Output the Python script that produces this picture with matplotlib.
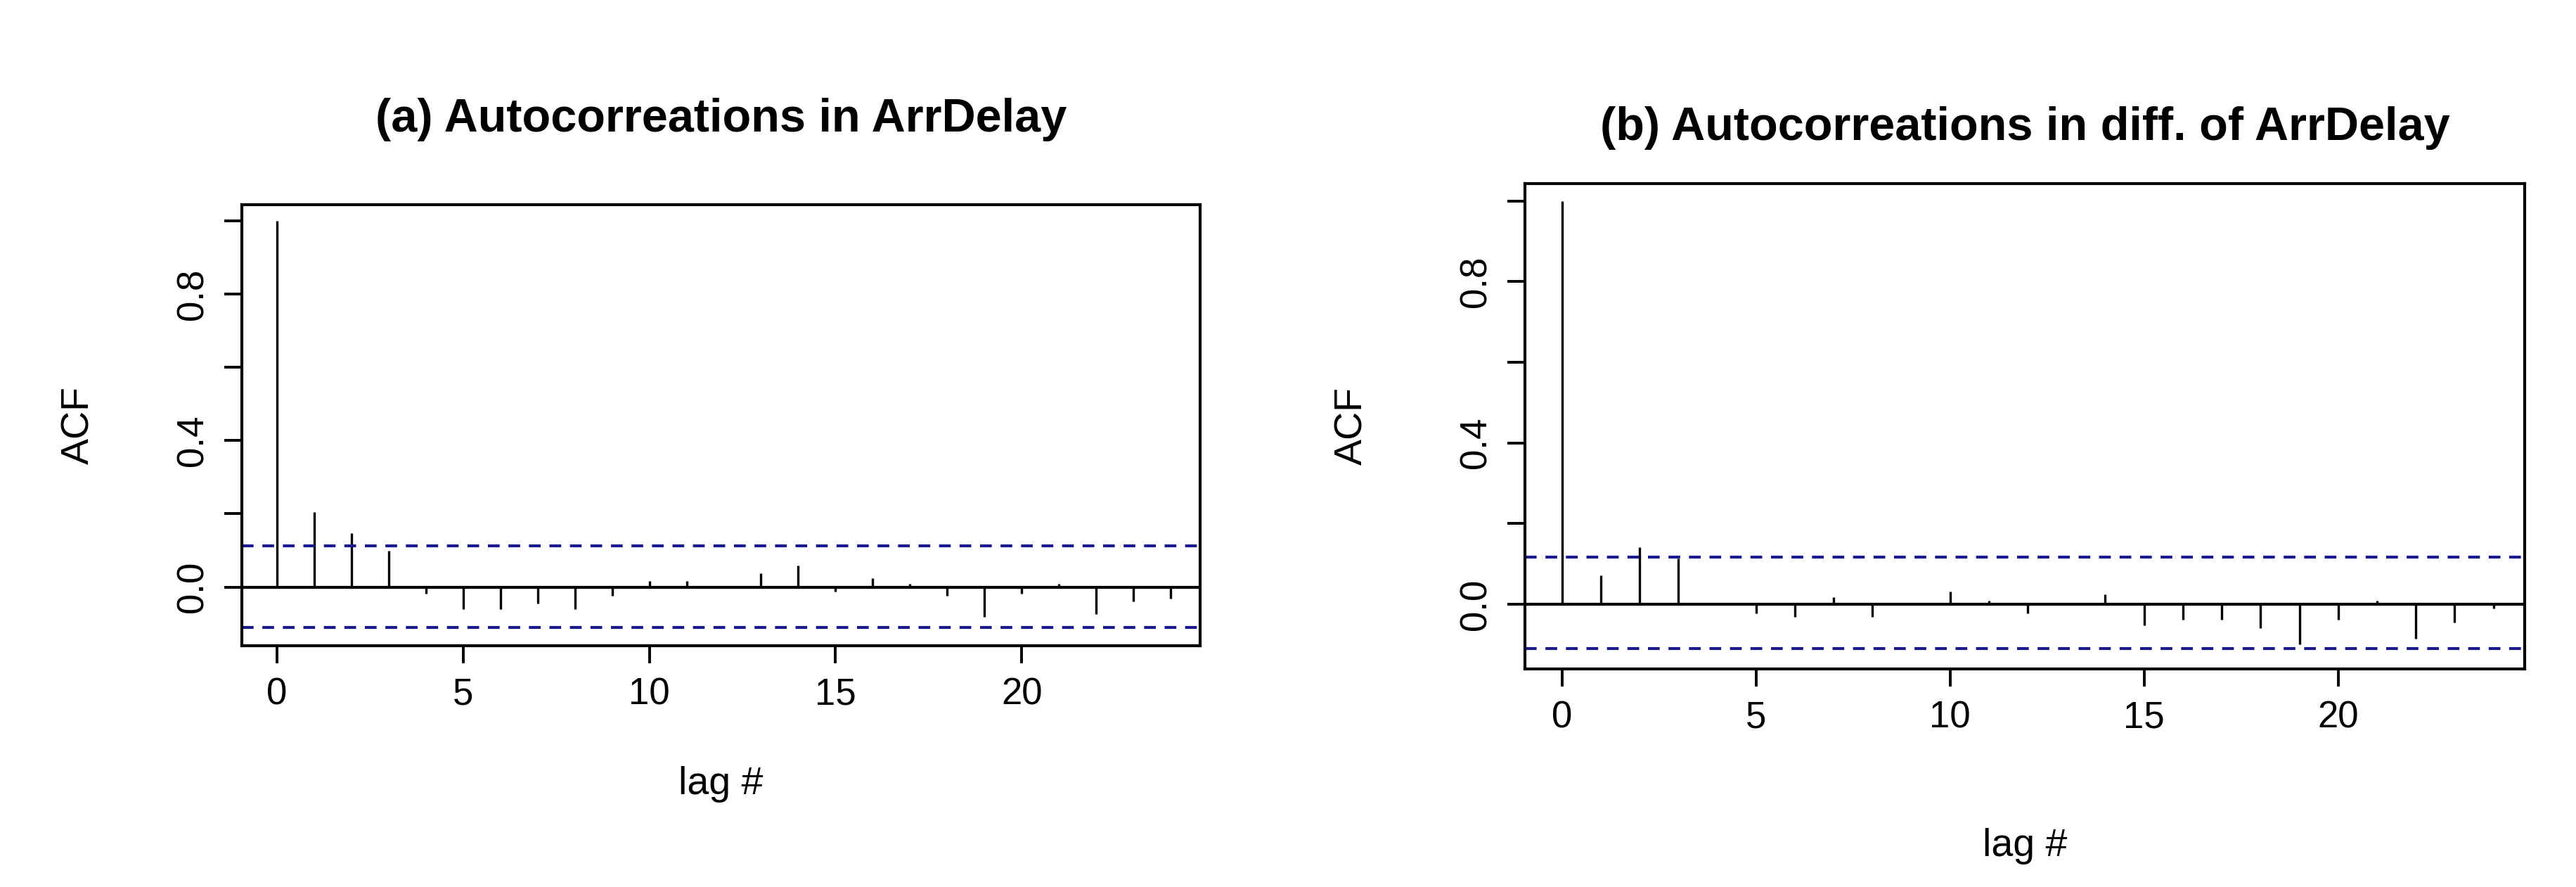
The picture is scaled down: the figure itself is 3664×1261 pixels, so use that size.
import matplotlib
matplotlib.use("Agg")
import matplotlib.pyplot as plt
import numpy as np

lags = np.arange(25)
acf_a = [1.0, 0.204, 0.148, 0.099, -0.018, -0.060, -0.060, -0.045, -0.060, -0.024,
         0.016, 0.016, 0.003, 0.037, 0.058, -0.012, 0.024, 0.009, -0.024, -0.081,
         -0.018, 0.009, -0.073, -0.039, -0.032]
ci_a = (0.112, -0.111)
acf_b = [1.0, 0.072, 0.141, 0.114, 0.002, -0.023, -0.031, 0.018, -0.031, 0.002,
         0.031, 0.009, -0.023, 0.002, 0.024, -0.052, -0.039, -0.039, -0.059, -0.100,
         -0.039, 0.009, -0.086, -0.046, -0.010]
ci_b = (0.117, -0.110)
titles = ["(a) Autocorreations in ArrDelay", "(b) Autocorreations in diff. of ArrDelay"]
xticks = [0, 5, 10, 15, 20]
yticks = [0.0, 0.4, 0.8]

plt.rcParams['font.family'] = ['Liberation Sans', 'DejaVu Sans']
fig = plt.figure(figsize=(36.64, 12.61), dpi=100)
rects = [[0.0938, 0.272, 0.466 - 0.0938, 0.769 - 0.272],
         [0.592, 0.246, 0.980 - 0.592, 0.793 - 0.246]]
title_pads = [75, 45]
xlabel_pads = [55, 95]
ylabel_pads = [80, 90]
for i, (acf, ci, title) in enumerate(zip([acf_a, acf_b], [ci_a, ci_b], titles)):
    ax = fig.add_axes(rects[i])
    ax.vlines(lags, 0, acf, color='black', lw=2.4)
    ax.axhline(0, color='black', lw=3)
    for c in ci:
        ax.axhline(c, color='#1a1a8c', lw=3, ls=(0, (4, 3)))
    ax.set_xlim(-0.95, 24.8)
    ax.set_ylim(-0.16, 1.043)
    ax.set_xticks(xticks)
    ax.set_yticks(yticks)
    ax.set_yticks(np.arange(0, 1.01, 0.2), minor=True)
    ax.set_yticklabels([f"{v:.1f}" for v in yticks], rotation=90, va='center')
    ax.tick_params(which='both', direction='out', length=18, width=2.8, labelsize=38, pad=14)
    for s in ax.spines.values():
        s.set_linewidth(3)
    ax.set_xlabel("lag #", fontsize=40, labelpad=xlabel_pads[i])
    ax.set_ylabel("ACF", fontsize=40, labelpad=ylabel_pads[i])
    ax.set_title(title, fontsize=48, fontweight='bold', pad=title_pads[i])

fig.savefig("out.png", dpi=100)
